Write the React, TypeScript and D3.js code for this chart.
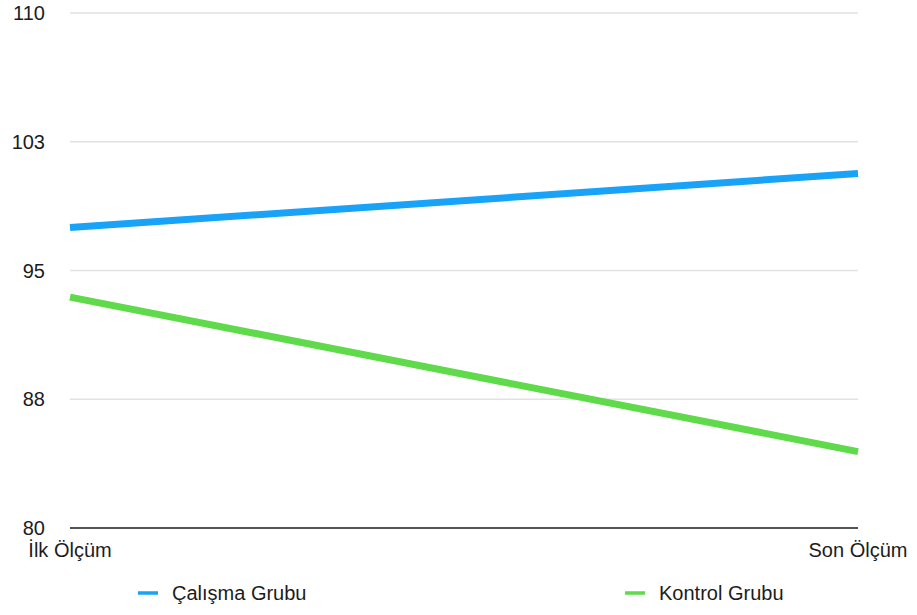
import * as d3 from "d3";
import React from "react";

const categories = ["İlk Ölçüm", "Son Ölçüm"];
const seriesNames = ["Çalışma Grubu", "Kontrol Grubu"];
const calismaValues = [97.5, 100.65];
const kontrolValues = [93.45, 84.45];
const yTicks = [80, 87.5, 95, 102.5, 110];
const colors = ["#19a3f8", "#5fda4a"];

const width = 917;
const height = 615;
const margin = { top: 13, right: 59, bottom: 87, left: 70 };
const font = "'Liberation Sans', Arial, Helvetica, sans-serif";
const fontSize = 20;

export default function App() {
  const x = d3
    .scalePoint<string>()
    .domain(categories)
    .range([margin.left, width - margin.right]);
  const y = d3
    .scaleLinear()
    .domain([80, 110])
    .range([height - margin.bottom, margin.top]);

  const line = d3
    .line<number>()
    .x((d, i) => x(categories[i]) as number)
    .y((d) => y(d));

  const series = [calismaValues, kontrolValues];
  const fmt = (v: number) => Math.round(v).toString();
  const legendX = [138, 625];

  return (
    <svg
      width={width}
      height={height}
      style={{ position: "absolute", left: 0, top: 0, background: "#fff" }}
    >
      {yTicks.map((t) => (
        <g key={t}>
          {t > 80 && (
            <line
              x1={margin.left}
              x2={width - margin.right}
              y1={y(t)}
              y2={y(t)}
              stroke="#e2e2e2"
              strokeWidth={1.5}
            />
          )}
          <text
            x={45}
            y={y(t)}
            dy="0.36em"
            textAnchor="end"
            fontFamily={font}
            fontSize={fontSize}
            fill="#1c1c1c"
          >
            {fmt(t)}
          </text>
        </g>
      ))}
      <line
        x1={margin.left}
        x2={width - margin.right}
        y1={y(80)}
        y2={y(80)}
        stroke="#555"
        strokeWidth={2}
      />
      {categories.map((c) => (
        <text
          key={c}
          x={x(c) as number}
          y={557}
          textAnchor="middle"
          fontFamily={font}
          fontSize={fontSize}
          fill="#1c1c1c"
        >
          {c}
        </text>
      ))}
      {series.map((s, i) => (
        <path
          key={seriesNames[i]}
          d={line(s) || ""}
          fill="none"
          stroke={colors[i]}
          strokeWidth={7}
        />
      ))}
      {seriesNames.map((n, i) => (
        <g key={n}>
          <line
            x1={legendX[i]}
            x2={legendX[i] + 20}
            y1={593}
            y2={593}
            stroke={colors[i]}
            strokeWidth={3.5}
          />
          <text
            x={legendX[i] + 34}
            y={600}
            fontFamily={font}
            fontSize={fontSize}
            fill="#1c1c1c"
          >
            {n}
          </text>
        </g>
      ))}
    </svg>
  );
}
